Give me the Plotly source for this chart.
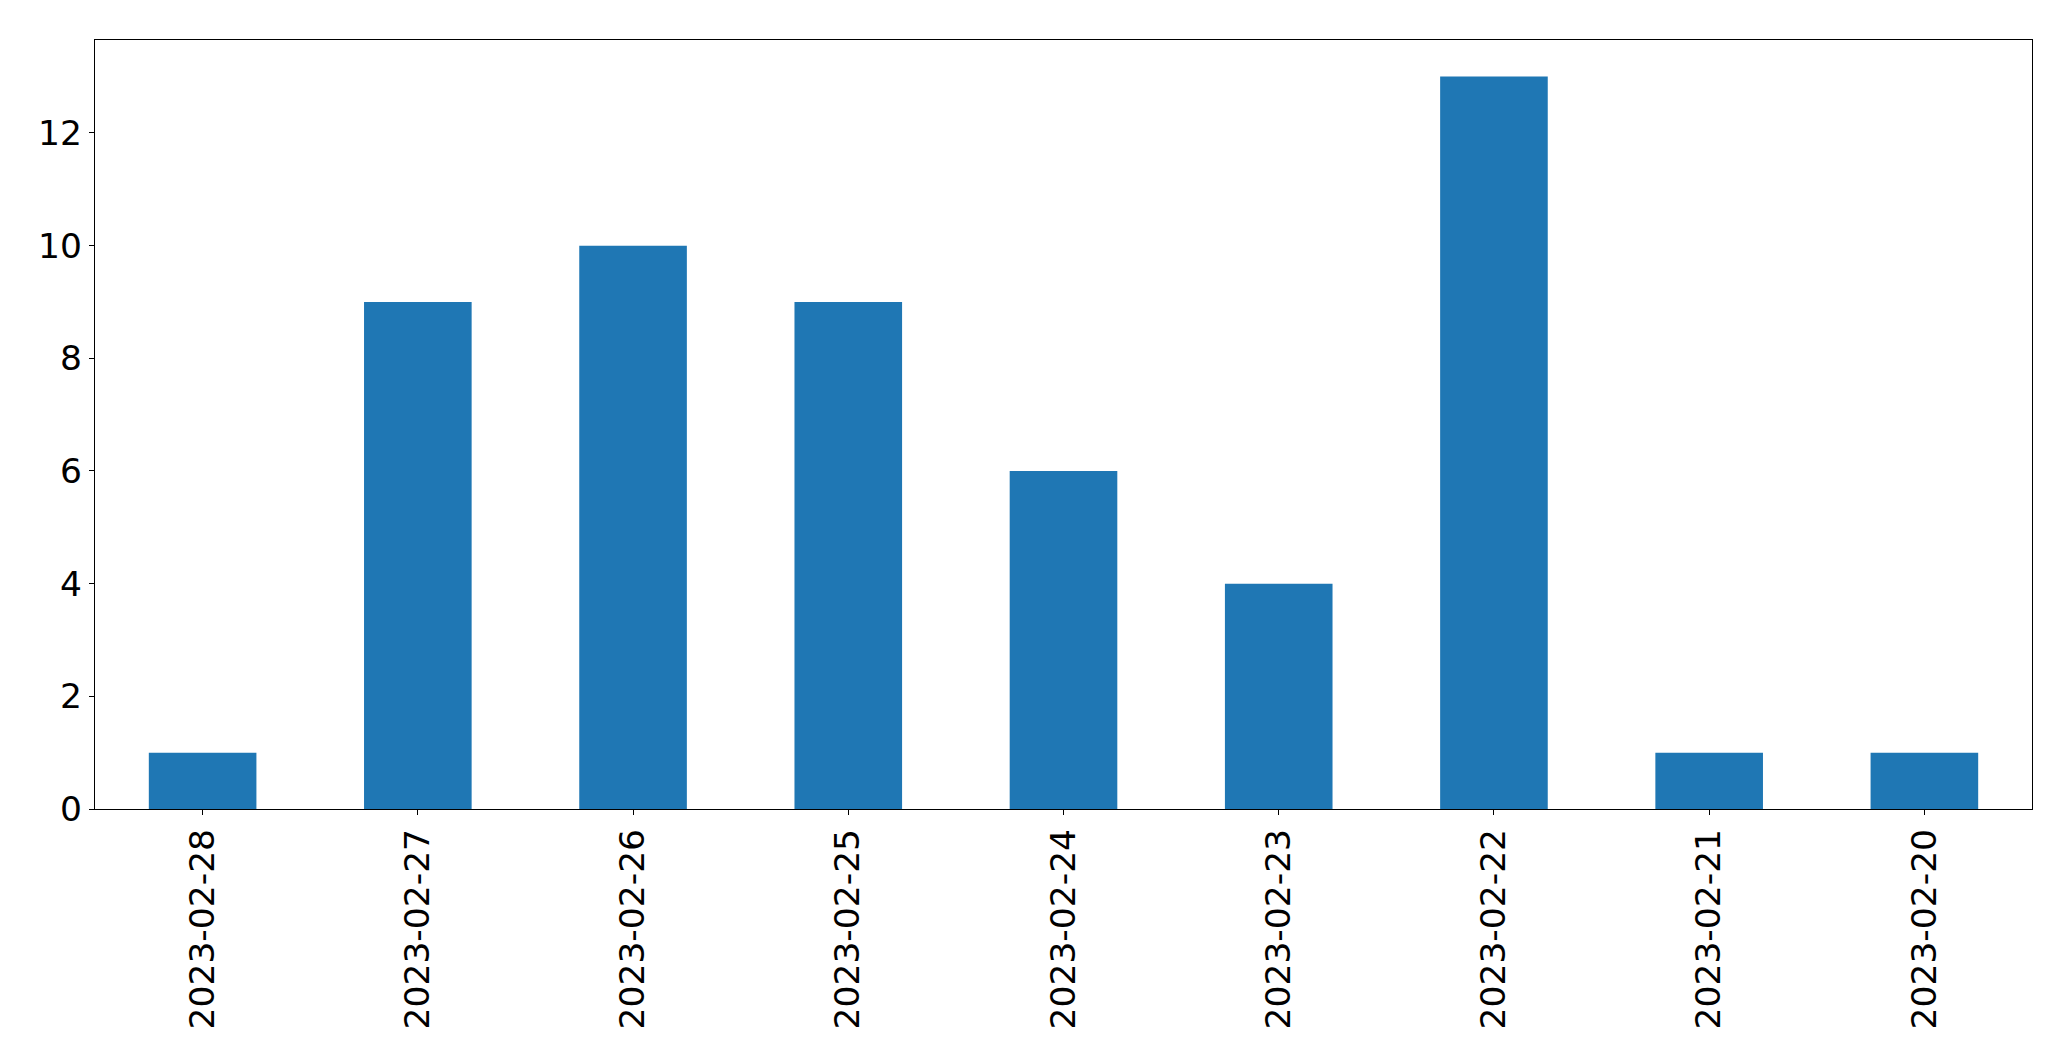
import plotly.graph_objects as go

dates = ["2023-02-28", "2023-02-27", "2023-02-26", "2023-02-25", "2023-02-24",
         "2023-02-23", "2023-02-22", "2023-02-21", "2023-02-20"]
counts = [1, 9, 10, 9, 6, 4, 13, 1, 1]
y_ticks = [0, 2, 4, 6, 8, 10, 12]

fig = go.Figure(go.Bar(x=dates, y=counts, width=0.5, marker_color="#1f77b4",
                       marker_line_width=0))

font = dict(family="DejaVu Sans", size=34.5, color="black")
fig.update_layout(
    width=2055, height=1045,
    margin=dict(l=86.5, r=31, t=31.5, b=244),
    plot_bgcolor="white", paper_bgcolor="white",
    showlegend=False,
    font=font,
)
fig.update_xaxes(type="category", range=[-0.5, 8.5], tickangle=-90,
                 showline=True, linecolor="black", linewidth=1.3, mirror=True,
                 ticks="outside", ticklen=5, tickwidth=1.3, tickcolor="black",
                 showgrid=False, tickfont=font)
fig.update_yaxes(range=[0, 13.65], tickvals=y_ticks,
                 showline=True, linecolor="black", linewidth=1.3, mirror=True,
                 ticks="outside", ticklen=5, tickwidth=1.3, tickcolor="black",
                 showgrid=False, zeroline=False, tickfont=font)
fig.write_html("out.html")
